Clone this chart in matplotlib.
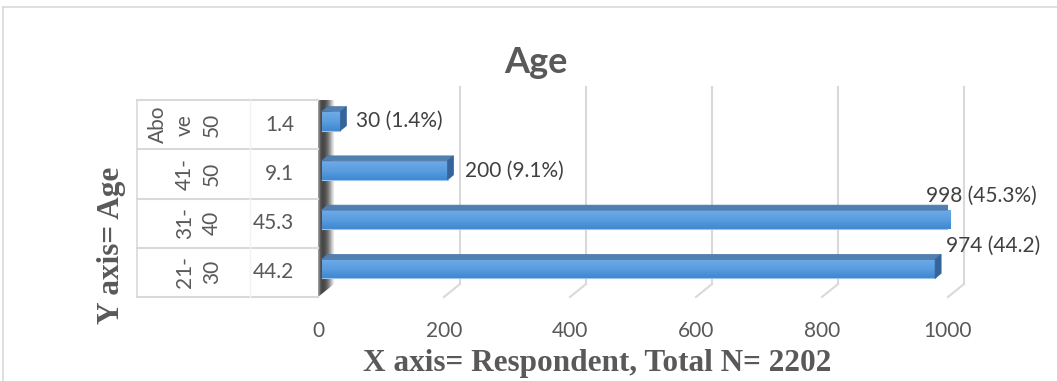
import numpy as np
import matplotlib
matplotlib.use("Agg")
import matplotlib.pyplot as plt
from matplotlib.patches import Polygon, Rectangle
from matplotlib import transforms
from matplotlib.lines import Line2D
from matplotlib.colors import LinearSegmentedColormap

# ---- data ----
categories = ["21-\n30", "31-\n40", "41-\n50", "Abo\nve\n50"]
percent_col = ["44.2", "45.3", "9.1", "1.4"]
respondents = [974, 998, 200, 30]
data_labels = ["974 (44.2)", "998 (45.3%)", "200 (9.1%)", "30 (1.4%)"]
xticks = [0, 200, 400, 600, 800, 1000]

TXT = "#595959"
GRID = "#d9d9d9"
FONT = "Lato"

W, H = 1057, 381
fig = plt.figure(figsize=(W / 100, H / 100), dpi=100)

# front plane of plot area (pixels)
X0, X1 = 318, 948
YT, YB = 100, 297
ax = fig.add_axes([X0 / W, 1 - YB / H, (X1 - X0) / W, (YB - YT) / H])
ax.set_xlim(0, 1000)
ax.set_ylim(-0.5, 3.5)
for s in ax.spines.values():
    s.set_visible(False)
ax.set_yticks([])
ax.set_xticks(xticks)
ax.set_xticklabels([str(t) for t in xticks], fontsize=15, color=TXT, family=FONT)
ax.tick_params(axis="x", length=0, pad=17)
ax.patch.set_alpha(0)

pxx = 1000 / (X1 - X0)          # data units per pixel (x)
pxy = 4.0 / (YB - YT)           # data units per pixel (y)

def dx(p):
    return p * pxx

def dy(p):
    return p * pxy

# depth offsets (pixels)
BK_X, BK_Y = 16, 13      # back plane
FR_X, FR_Y = 3.5, 3.5    # bar front face
BD_X, BD_Y = 6, 5        # bar depth
BAR_H = 19               # bar front height in px

# gridlines on back wall + floor
for t in xticks[1:]:
    ax.add_line(Line2D([t + dx(BK_X)] * 2, [-0.5 + dy(BK_Y), 3.5 + dy(BK_Y)],
                       color=GRID, lw=1.5, clip_on=False, zorder=1))
    ax.add_line(Line2D([t, t + dx(BK_X)], [-0.5, -0.5 + dy(BK_Y)],
                       color=GRID, lw=1.5, clip_on=False, zorder=1))

# left side wall with shadow gradient
wall = Polygon([(0, -0.5), (0, 3.5), (dx(BK_X), 3.5 + dy(BK_Y)), (dx(BK_X), -0.5 + dy(BK_Y))],
               closed=True, facecolor="none", edgecolor="none", transform=ax.transData)
ax.add_patch(wall)
grad = np.array([0.60, 0.38, 0.29, 0.28, 0.30, 0.35, 0.42, 0.52, 0.64, 0.78, 0.90])[None, :]
im = ax.imshow(grad, cmap="gray", vmin=0, vmax=1, aspect="auto",
               extent=[0, dx(BK_X), -0.5, 3.5 + dy(BK_Y)], interpolation="bilinear",
               zorder=2)
im.set_clip_path(wall)

# bars
bar_cmap = LinearSegmentedColormap.from_list("b", ["#3f87cf", "#5a9de0", "#6eaae6"])
bh = dy(BAR_H)
for i, v in enumerate(respondents):
    x0 = dx(FR_X)
    x1 = v + dx(FR_X)
    yb = i - bh / 2 + dy(FR_Y)
    yt = i + bh / 2 + dy(FR_Y)
    front = Rectangle((x0, yb), x1 - x0, yt - yb, facecolor="none", edgecolor="none")
    ax.add_patch(front)
    g = np.linspace(0, 1, 50)[:, None]
    bim = ax.imshow(g, cmap=bar_cmap, aspect="auto", origin="lower",
                    extent=[x0, x1, yb, yt], zorder=4, interpolation="bilinear")
    bim.set_clip_path(front)
    ax.add_line(Line2D([x0, x1], [yb, yb], color="#9cc3ea", lw=0.8, zorder=5))
    top = Polygon([(x0, yt), (x1, yt), (x1 + dx(BD_X), yt + dy(BD_Y)), (x0 + dx(BD_X), yt + dy(BD_Y))],
                  closed=True, facecolor="#507fb0", edgecolor="#4a78a8", lw=0.5, zorder=5)
    side = Polygon([(x1, yb), (x1, yt), (x1 + dx(BD_X), yt + dy(BD_Y)), (x1 + dx(BD_X), yb + dy(BD_Y))],
                   closed=True, facecolor="#34659a", edgecolor="#34659a", lw=0.5, zorder=5)
    ax.add_patch(top)
    ax.add_patch(side)

# data labels (offsets in pixels)
label_offsets = [(5, 23.5), (-30, 24), (11.5, 0), (10, 0)]
for i, (v, lab) in enumerate(zip(respondents, data_labels)):
    ox, oy = label_offsets[i]
    ax.annotate(lab, xy=(v + dx(FR_X + BD_X), i + dy(FR_Y)), xytext=(ox * 0.72, oy * 0.72),
                textcoords="offset points", ha="left", va="center",
                fontsize=15, color="#404040", family=FONT, annotation_clip=False, zorder=6)

# table on the left (x in figure pixels, y in data)
tt = transforms.blended_transform_factory(fig.transFigure, ax.transData)
TL, TM, TR = 137, 250, 318
for b in np.arange(-0.5, 4.0, 1.0):
    ax.add_line(Line2D([TL / W, TR / W], [b, b], color=GRID, lw=1.5, transform=tt, clip_on=False))
ax.add_line(Line2D([TL / W, TL / W], [-0.5, 3.5], color=GRID, lw=1.2, transform=tt, clip_on=False))
ax.add_line(Line2D([TM / W, TM / W], [-0.5, 3.5], color="#f2f2f2", lw=1.0, transform=tt, clip_on=False))
for i, (c, p) in enumerate(zip(categories, percent_col)):
    ax.text(222 / W, i, c, transform=tt, rotation=90, ha="right", va="center",
            multialignment="center", fontsize=15, color=TXT, family=FONT, linespacing=1.45)
    ax.text(294 / W, i, p, transform=tt, ha="right", va="center",
            fontsize=15, color=TXT, family=FONT)

# titles
fig.text(536 / W, 1 - 73 / H, "Age", ha="center", va="baseline", fontsize=26,
         fontweight="bold", color=TXT, family=FONT)
fig.text(597 / W, 1 - 364 / H, "X axis= Respondent, Total N= 2202", ha="center", va="center",
         fontsize=22.5, fontweight="bold", color=TXT, family="Liberation Serif")
fig.text(112 / W, 1 - 245 / H, "Y axis= Age", ha="center", va="center", rotation=90,
         fontsize=22.5, fontweight="bold", color=TXT, family="Liberation Serif")

# chart border
fig.add_artist(Line2D([3 / W, 3 / W], [0, 1 - 7 / H], color=GRID, lw=1.2))
fig.add_artist(Line2D([3 / W, 1], [1 - 7 / H, 1 - 7 / H], color=GRID, lw=1.2))

fig.savefig("out.png", dpi=100)
